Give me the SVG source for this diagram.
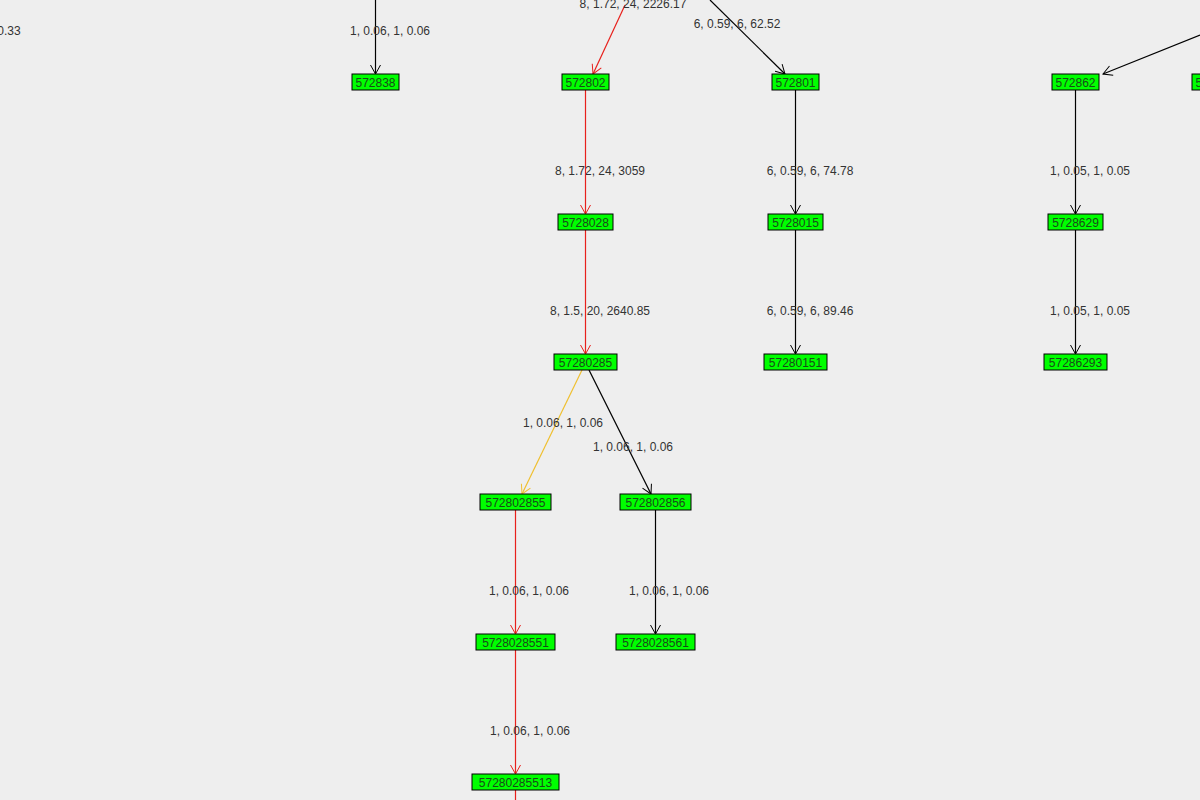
<svg xmlns="http://www.w3.org/2000/svg" width="1200" height="800" viewBox="0 0 1200 800">
<style>
.n rect{fill:#00ff00;stroke:#000;stroke-width:1}
.n text{font-family:"Liberation Sans",Arial,sans-serif;font-size:12px;fill:#1a4a1a;text-anchor:middle}
.e{fill:none;stroke-width:1.2}
.lbl{font-family:"Liberation Sans",Arial,sans-serif;font-size:12px;fill:#333;text-anchor:middle}
</style>
<defs>
<marker id="ab" markerWidth="12" markerHeight="12" refX="10" refY="6" orient="auto" markerUnits="userSpaceOnUse"><path d="M1,1 L10,6 L1,11" fill="none" stroke="#000"/></marker>
<marker id="ar" markerWidth="12" markerHeight="12" refX="10" refY="6" orient="auto" markerUnits="userSpaceOnUse"><path d="M1,1 L10,6 L1,11" fill="none" stroke="#e8201c"/></marker>
<marker id="ay" markerWidth="12" markerHeight="12" refX="10" refY="6" orient="auto" markerUnits="userSpaceOnUse"><path d="M1,1 L10,6 L1,11" fill="none" stroke="#f0c030"/></marker>
</defs>
<rect width="1200" height="800" fill="#eeeeee"/>
<g id="connectors">
<line class="e" x1="375.5" y1="0" x2="375.5" y2="74" stroke="#000" marker-end="url(#ab)"/>
<line class="e" x1="625" y1="5" x2="593" y2="74" stroke="#e8201c" marker-end="url(#ar)"/>
<line class="e" x1="710" y1="0" x2="785" y2="74" stroke="#000" marker-end="url(#ab)"/>
<line class="e" x1="1200" y1="35" x2="1103" y2="74" stroke="#000" marker-end="url(#ab)"/>
<line class="e" x1="585.5" y1="90" x2="585.5" y2="214" stroke="#e8201c" marker-end="url(#ar)"/>
<line class="e" x1="795.5" y1="90" x2="795.5" y2="214" stroke="#000" marker-end="url(#ab)"/>
<line class="e" x1="1075.5" y1="90" x2="1075.5" y2="214" stroke="#000" marker-end="url(#ab)"/>
<line class="e" x1="585.5" y1="230" x2="585.5" y2="354" stroke="#e8201c" marker-end="url(#ar)"/>
<line class="e" x1="795.5" y1="230" x2="795.5" y2="354" stroke="#000" marker-end="url(#ab)"/>
<line class="e" x1="1075.5" y1="230" x2="1075.5" y2="354" stroke="#000" marker-end="url(#ab)"/>
<line class="e" x1="582" y1="370" x2="522" y2="494" stroke="#f0c030" marker-end="url(#ay)"/>
<line class="e" x1="589" y1="370" x2="651" y2="494" stroke="#000" marker-end="url(#ab)"/>
<line class="e" x1="515.5" y1="510" x2="515.5" y2="634" stroke="#e8201c" marker-end="url(#ar)"/>
<line class="e" x1="655.5" y1="510" x2="655.5" y2="634" stroke="#000" marker-end="url(#ab)"/>
<line class="e" x1="515.5" y1="650" x2="515.5" y2="774" stroke="#e8201c" marker-end="url(#ar)"/>
<line class="e" x1="515.5" y1="790" x2="515.5" y2="800" stroke="#e8201c"/>
<text class="lbl" x="9" y="35">0.33</text>
<text class="lbl" x="390" y="35">1, 0.06, 1, 0.06</text>
<text class="lbl" x="633" y="8">8, 1.72, 24, 2226.17</text>
<text class="lbl" x="737" y="28">6, 0.59, 6, 62.52</text>
<text class="lbl" x="600" y="175">8, 1.72, 24, 3059</text>
<text class="lbl" x="810" y="175">6, 0.59, 6, 74.78</text>
<text class="lbl" x="1090" y="175">1, 0.05, 1, 0.05</text>
<text class="lbl" x="600" y="315">8, 1.5, 20, 2640.85</text>
<text class="lbl" x="810" y="315">6, 0.59, 6, 89.46</text>
<text class="lbl" x="1090" y="315">1, 0.05, 1, 0.05</text>
<text class="lbl" x="563" y="427">1, 0.06, 1, 0.06</text>
<text class="lbl" x="633" y="451">1, 0.06, 1, 0.06</text>
<text class="lbl" x="529" y="595">1, 0.06, 1, 0.06</text>
<text class="lbl" x="669" y="595">1, 0.06, 1, 0.06</text>
<text class="lbl" x="530" y="735">1, 0.06, 1, 0.06</text>
</g>
<g id="n572838" class="n"><rect x="352" y="74" width="47" height="16"/><text x="375.5" y="86.5">572838</text></g>
<g id="n572802" class="n"><rect x="562" y="74" width="47" height="16"/><text x="585.5" y="86.5">572802</text></g>
<g id="n572801" class="n"><rect x="772" y="74" width="47" height="16"/><text x="795.5" y="86.5">572801</text></g>
<g id="n572862" class="n"><rect x="1052" y="74" width="47" height="16"/><text x="1075.5" y="86.5">572862</text></g>
<g id="npartial" class="n"><rect x="1192" y="74" width="47" height="16"/><text x="1215.5" y="86.5">572863</text></g>
<g id="n5728028" class="n"><rect x="558" y="214" width="55" height="16"/><text x="585.5" y="226.5">5728028</text></g>
<g id="n5728015" class="n"><rect x="768" y="214" width="55" height="16"/><text x="795.5" y="226.5">5728015</text></g>
<g id="n5728629" class="n"><rect x="1048" y="214" width="55" height="16"/><text x="1075.5" y="226.5">5728629</text></g>
<g id="n57280285" class="n"><rect x="554" y="354" width="63" height="16"/><text x="585.5" y="366.5">57280285</text></g>
<g id="n57280151" class="n"><rect x="764" y="354" width="63" height="16"/><text x="795.5" y="366.5">57280151</text></g>
<g id="n57286293" class="n"><rect x="1044" y="354" width="63" height="16"/><text x="1075.5" y="366.5">57286293</text></g>
<g id="n572802855" class="n"><rect x="480" y="494" width="71" height="16"/><text x="515.5" y="506.5">572802855</text></g>
<g id="n572802856" class="n"><rect x="620" y="494" width="71" height="16"/><text x="655.5" y="506.5">572802856</text></g>
<g id="n5728028551" class="n"><rect x="476" y="634" width="79" height="16"/><text x="515.5" y="646.5">5728028551</text></g>
<g id="n5728028561" class="n"><rect x="616" y="634" width="79" height="16"/><text x="655.5" y="646.5">5728028561</text></g>
<g id="n57280285513" class="n"><rect x="472" y="774" width="87" height="16"/><text x="515.5" y="786.5">57280285513</text></g>
</svg>
